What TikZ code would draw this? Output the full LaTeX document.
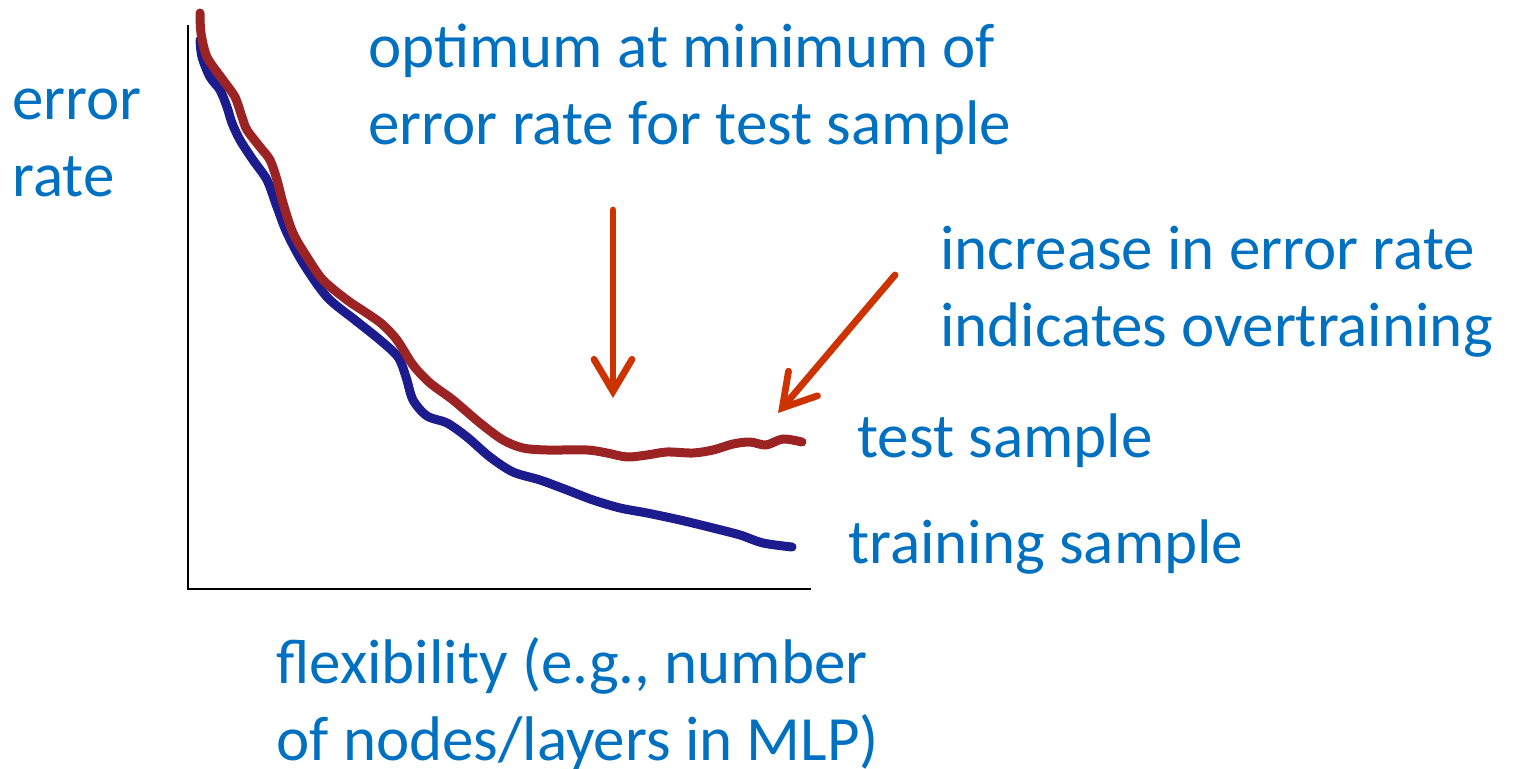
\documentclass[tikz,border=0pt]{standalone}
\usepackage{fontspec}
\setmainfont{Carlito}
\usetikzlibrary{positioning,arrows.meta}
\definecolor{txtblue}{HTML}{0070C0}
\definecolor{arrred}{HTML}{CC3300}
\definecolor{testred}{HTML}{9B2323}
\definecolor{trainblue}{HTML}{1C1C8E}
\tikzset{label text/.style={text=txtblue,font=\fontsize{31.5pt}{38.5pt}\selectfont,inner sep=0pt,anchor=base west,align=left},
            pointer/.style={draw=arrred,line width=3.4pt,line cap=round,-{Straight Barb[length=16pt,width=19pt,line cap=round]}},
            curve/.style={line width=4.5pt,line cap=round,line join=round},
            axis line/.style={draw=black,line width=1pt},
            }

\begin{document}
\begin{tikzpicture}[x=0.5pt,y=-0.5pt]
    \useasboundingbox (0,0) rectangle (1519,769);
    % axes
    \draw[axis line] (188,25) -- (188,589) -- (811,589);
    % curves
    \draw[curve,trainblue] plot[smooth] coordinates {(200,40) (202,57) (210,77) (220,90) (227,107) (232,123) (240,140) (253,160) (267,180) (277,207) (287,233) (303,263) (327,297) (355,320) (380,340) (398,357) (406,377) (413,400) (427,416) (447,423) (467,437) (490,457) (513,472) (540,480) (567,490) (593,500) (620,508) (647,513) (680,520) (713,528) (740,535) (763,543) (792,547)};
    \draw[curve,testred] plot[smooth] coordinates {(200,13) (201,33) (207,57) (223,80) (235,97) (242,117) (247,130) (260,147) (270,160) (277,180) (283,203) (293,233) (307,257) (323,280) (347,300) (365,312) (382,324) (397,340) (413,365) (430,383) (453,400) (480,423) (503,440) (523,448) (547,450) (587,450) (607,453) (627,457) (647,455) (667,452) (693,453) (713,450) (733,444) (750,442) (766,445) (783,439) (802,442)};
    % labels (base = last line)
    \node[label text] (ylab) at (12,197) {error\\rate};
    \node[label text] (optimum) at (368,145) {optimum at minimum of\\error rate for test sample};
    \node[label text] (increase) at (940,347) {increase in error rate\\indicates overtraining};
    \node[label text] (test) at (857,458) {test sample};
    \node[label text] (train) at (848,563) {training sample};
    \node[label text] (xlab) at (276,760) {flexibility (e.g., number\\of nodes/layers in MLP)};
    % arrows
    \coordinate (optfrom) at (613,210);
    \coordinate (opttip) at (613,398);
    \coordinate (incfrom) at (895,275);
    \coordinate (inctip) at (778,413);
    \draw[pointer] (optfrom) -- (opttip);
    \draw[pointer] (incfrom) -- (inctip);
\end{tikzpicture}
\end{document}
